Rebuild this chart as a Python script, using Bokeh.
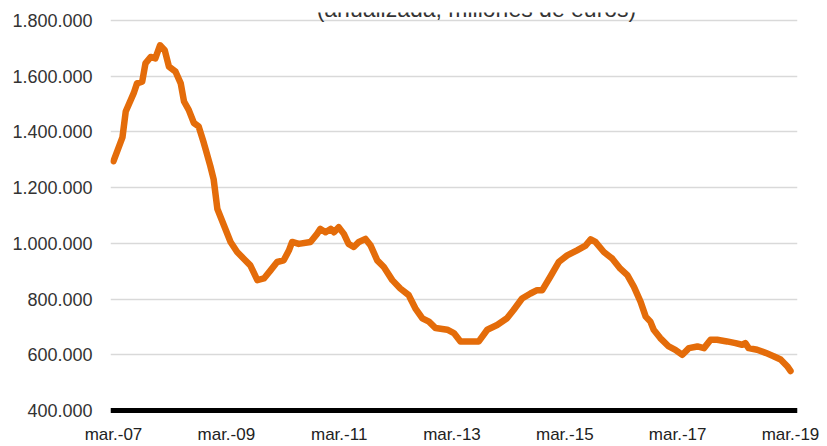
from bokeh.plotting import figure
from bokeh.models import FixedTicker, Span, Label, Range1d
from bokeh.embed import file_html
from bokeh.resources import INLINE

# months since mar-07 (read positions) and annualised values (euros)
mes = [0, 1.9, 2.6, 4.3, 5.0, 6.1, 6.8, 7.9, 8.9, 9.9, 10.9, 11.8, 13.2, 14.3, 15.0,
       16.0, 17.1, 18.1, 19.2, 19.6, 20.6, 21.3, 22.1, 23.5, 24.9, 26.3, 27.7, 29.1,
       30.6, 32.0, 33.4, 34.8, 36.2, 37.3, 38.0, 39.4, 41.9, 43.3, 44.0, 45.1, 46.2,
       46.9, 47.9, 49.0, 50.0, 51.1, 52.2, 53.6, 54.7, 56.1, 57.5, 59.3, 61.0, 62.8,
       64.2, 65.7, 67.1, 68.5, 71.0, 72.4, 73.8, 77.7, 79.5, 81.6, 83.7, 85.1, 86.9,
       88.7, 90.1, 91.2, 92.9, 94.7, 96.5, 98.6, 100.4, 101.5, 102.5, 104.3, 106.1,
       107.8, 109.3, 110.7, 112.1, 113.2, 114.2, 114.9, 116.3, 118.1, 119.5, 121.0,
       122.4, 124.2, 125.6, 127.0, 128.4, 130.5, 132.3, 133.7, 134.4, 135.1, 136.9,
       138.7, 140.4, 141.9, 143.3, 144.0]
valor = [1295000, 1380000, 1473000, 1539000, 1574000, 1580000, 1646000, 1669000,
         1664000, 1711000, 1693000, 1634000, 1616000, 1574000, 1509000, 1479000,
         1432000, 1420000, 1361000, 1337000, 1277000, 1230000, 1123000, 1064000,
         1005000, 969000, 945000, 921000, 868000, 874000, 903000, 933000, 939000,
         974000, 1005000, 998000, 1005000, 1034000, 1052000, 1040000, 1052000,
         1040000, 1058000, 1034000, 998000, 987000, 1005000, 1016000, 992000, 939000,
         915000, 868000, 838000, 814000, 767000, 731000, 719000, 696000, 690000,
         678000, 648000, 648000, 690000, 707000, 731000, 761000, 802000, 820000,
         832000, 832000, 880000, 933000, 957000, 975000, 992000, 1014000, 1005000,
         969000, 945000, 909000, 886000, 844000, 791000, 737000, 719000, 690000,
         660000, 630000, 618000, 600000, 624000, 630000, 624000, 654000, 654000,
         648000, 642000, 636000, 642000, 624000, 618000, 607000, 595000, 583000,
         559000, 542000]

x_ticks = [0, 24, 48, 72, 96, 120, 144]
x_labels = ["mar.-07", "mar.-09", "mar.-11", "mar.-13", "mar.-15", "mar.-17", "mar.-19"]
y_ticks = [400000, 600000, 800000, 1000000, 1200000, 1400000, 1600000, 1800000]
y_labels = ["400.000", "600.000", "800.000", "1.000.000", "1.200.000", "1.400.000",
            "1.600.000", "1.800.000"]
subtitulo = "(anualizada, millones de euros)"

FONT = "Liberation Sans"

p = figure(width=827, height=446, output_backend="svg", toolbar_location=None,
           x_range=Range1d(-0.638, 145.49), y_range=Range1d(385750, 1828499),
           min_border_left=110, min_border_right=30, min_border_top=12,
           min_border_bottom=29)
p.outline_line_color = None
p.xgrid.grid_line_color = None
p.ygrid.grid_line_color = "#d9d9d9"
p.ygrid.grid_line_width = 1.5

p.line(mes, valor, line_color="#E46C0A", line_width=6.5, line_join="round",
       line_cap="round")

p.add_layout(Span(location=400000, dimension="width", line_color="black",
                  line_width=5))

p.yaxis.ticker = FixedTicker(ticks=y_ticks)
p.yaxis.major_label_overrides = dict(zip(y_ticks, y_labels))
p.yaxis.axis_line_color = None
p.yaxis.major_tick_line_color = None
p.yaxis.minor_tick_line_color = None
p.yaxis.major_tick_out = 0
p.yaxis.major_label_standoff = 18
p.yaxis.major_label_text_font = FONT
p.yaxis.major_label_text_font_size = "18px"
p.yaxis.major_label_text_color = "#333333"

p.xaxis.ticker = FixedTicker(ticks=x_ticks)
p.xaxis.major_label_overrides = dict(zip(x_ticks, x_labels))
p.xaxis.axis_line_color = None
p.xaxis.major_tick_line_color = None
p.xaxis.minor_tick_line_color = None
p.xaxis.major_tick_out = 0
p.xaxis.major_label_standoff = 10
p.xaxis.major_label_text_font = FONT
p.xaxis.major_label_text_font_size = "17px"
p.xaxis.major_label_text_color = "#222222"

p.add_layout(Label(x=77.2, y=1840900, text=subtitulo, text_align="center",
                   text_baseline="alphabetic", text_font=FONT,
                   text_font_size="23px", text_color="#333333"))

open("out.html", "w").write(file_html(p, INLINE))
